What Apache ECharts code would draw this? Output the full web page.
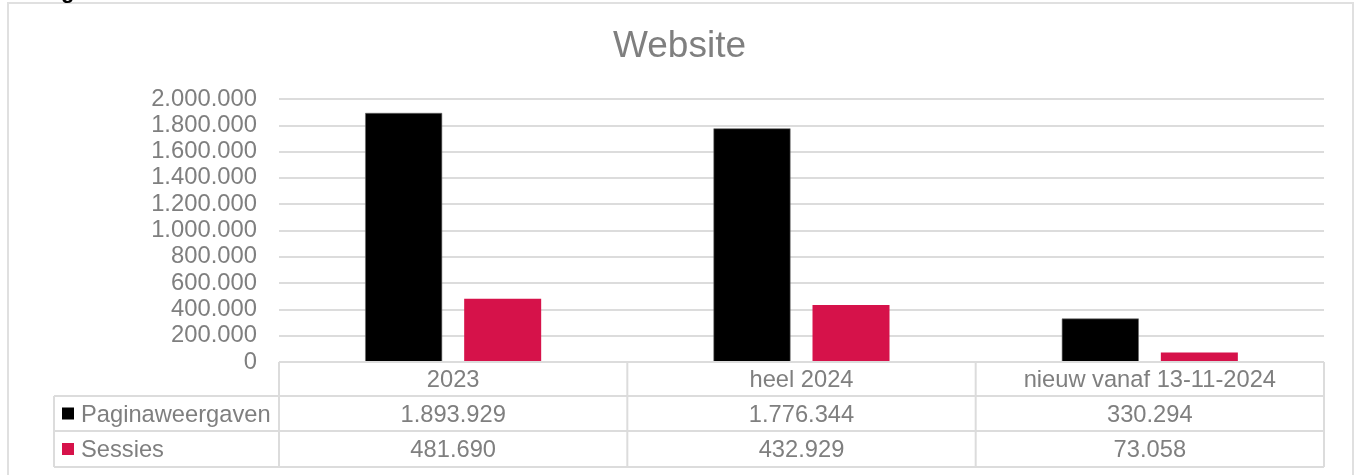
<!DOCTYPE html>
<html><head><meta charset="utf-8">
<script src="https://cdn.jsdelivr.net/npm/echarts@6/dist/echarts.min.js"></script>
<style>html,body{margin:0;padding:0;background:#fff}#c{width:1359px;height:475px}</style>
</head><body><div id="c"></div>
<script>
// ---- data ----
const categories = ['2023', 'heel 2024', 'nieuw vanaf 13-11-2024'];
const paginaweergaven = [1893929, 1776344, 330294];
const sessies = [481690, 432929, 73058];
const seriesNames = ['Paginaweergaven', 'Sessies'];
const yMin = 0, yMax = 2000000, yInterval = 200000;
const titleText = 'Website';

// ---- style ----
const FONT = "'Liberation Sans', Arial, sans-serif";
const GRAY = '#7f7f7f';
const LINE = '#dcdcdc';
const COLORS = ['#000000', '#d6124a'];
const GRID = {left: 279, right: 35, top: 99, bottom: 113};
const FS = 23.7;

function nl(v) { return String(v).replace(/\B(?=(\d{3})+(?!\d))/g, '.'); }

const chart = echarts.init(document.getElementById('c'), null, {renderer: 'canvas'});
chart.setOption({
  animation: false,
  backgroundColor: '#fff',
  title: {
    text: titleText, left: 'center', top: 23,
    textStyle: {fontFamily: FONT, fontSize: 37, fontWeight: 'normal', color: GRAY}
  },
  grid: GRID,
  xAxis: {
    type: 'category', data: categories,
    axisLine: {show: false}, axisTick: {show: false}, axisLabel: {show: false},
    splitLine: {show: false}
  },
  yAxis: {
    type: 'value', min: yMin, max: yMax, interval: yInterval,
    axisLine: {show: false}, axisTick: {show: false},
    axisLabel: {formatter: nl, fontFamily: FONT, fontSize: 23.8, color: GRAY, margin: 22, padding: [3, 0, 0, 0]},
    splitLine: {lineStyle: {color: LINE, width: 2}}
  },
  series: [
    {name: seriesNames[0], type: 'bar', data: paginaweergaven, barWidth: 77, barGap: '28.6%',
     itemStyle: {color: COLORS[0], borderColor: '#6a6a6a', borderWidth: 0.6}},
    {name: seriesNames[1], type: 'bar', data: sessies, barWidth: 77,
     itemStyle: {color: COLORS[1]}}
  ]
});

// ---- data table under the plot ----
const W = 1359, H = 475;
const xL = GRID.left, xR = W - GRID.right;
const yAxis0 = H - GRID.bottom;           // 362
const rowY = [yAxis0, 396, 431, 467];
const legendLeft = 54;
const bw = (xR - xL) / categories.length;
const g = [];
const lineStyle = {stroke: LINE, lineWidth: 2};
function hline(y, x1, x2) { g.push({type: 'line', shape: {x1, y1: y, x2, y2: y}, style: lineStyle, z: 5}); }
function vline(x, y1, y2) { g.push({type: 'line', shape: {x1: x, y1, x2: x, y2}, style: lineStyle, z: 5}); }
hline(rowY[0], xL, xR);
for (let i = 1; i < rowY.length; i++) hline(rowY[i], legendLeft, xR);
for (let i = 0; i <= categories.length; i++) vline(xL + i * bw, rowY[0], rowY[3]);
vline(legendLeft, rowY[1], rowY[3]);
// outer chart border
g.push({type: 'rect', shape: {x: 8, y: 3, width: 1345, height: 520}, style: {fill: null, stroke: '#e0e0e0', lineWidth: 2}, z: 1});

function txt(text, x, y, align) {
  g.push({type: 'text', x, y: y + 1.5, z: 6, style: {text, fill: GRAY, font: FS + 'px ' + FONT, textAlign: align, textVerticalAlign: 'middle'}});
}
const rowsData = [paginaweergaven, sessies];
categories.forEach((c, i) => {
  const cx = chart.convertToPixel({xAxisIndex: 0}, c);
  txt(c, cx, (rowY[0] + rowY[1]) / 2, 'center');
  rowsData.forEach((arr, r) => txt(nl(arr[i]), cx, (rowY[r + 1] + rowY[r + 2]) / 2, 'center'));
});
seriesNames.forEach((n, r) => {
  const cy = (rowY[r + 1] + rowY[r + 2]) / 2;
  g.push({type: 'rect', shape: {x: 62, y: cy - 6, width: 12, height: 12}, style: {fill: COLORS[r]}, z: 6});
  txt(n, 81, cy, 'left');
});
// cut-off heading fragment at top-left
g.push({type: 'text', x: 61, y: 3, z: 6, style: {text: 'g', fill: '#000', font: 'bold 22px ' + FONT, textAlign: 'left', textVerticalAlign: 'bottom'}});

chart.setOption({graphic: g});
</script></body></html>
